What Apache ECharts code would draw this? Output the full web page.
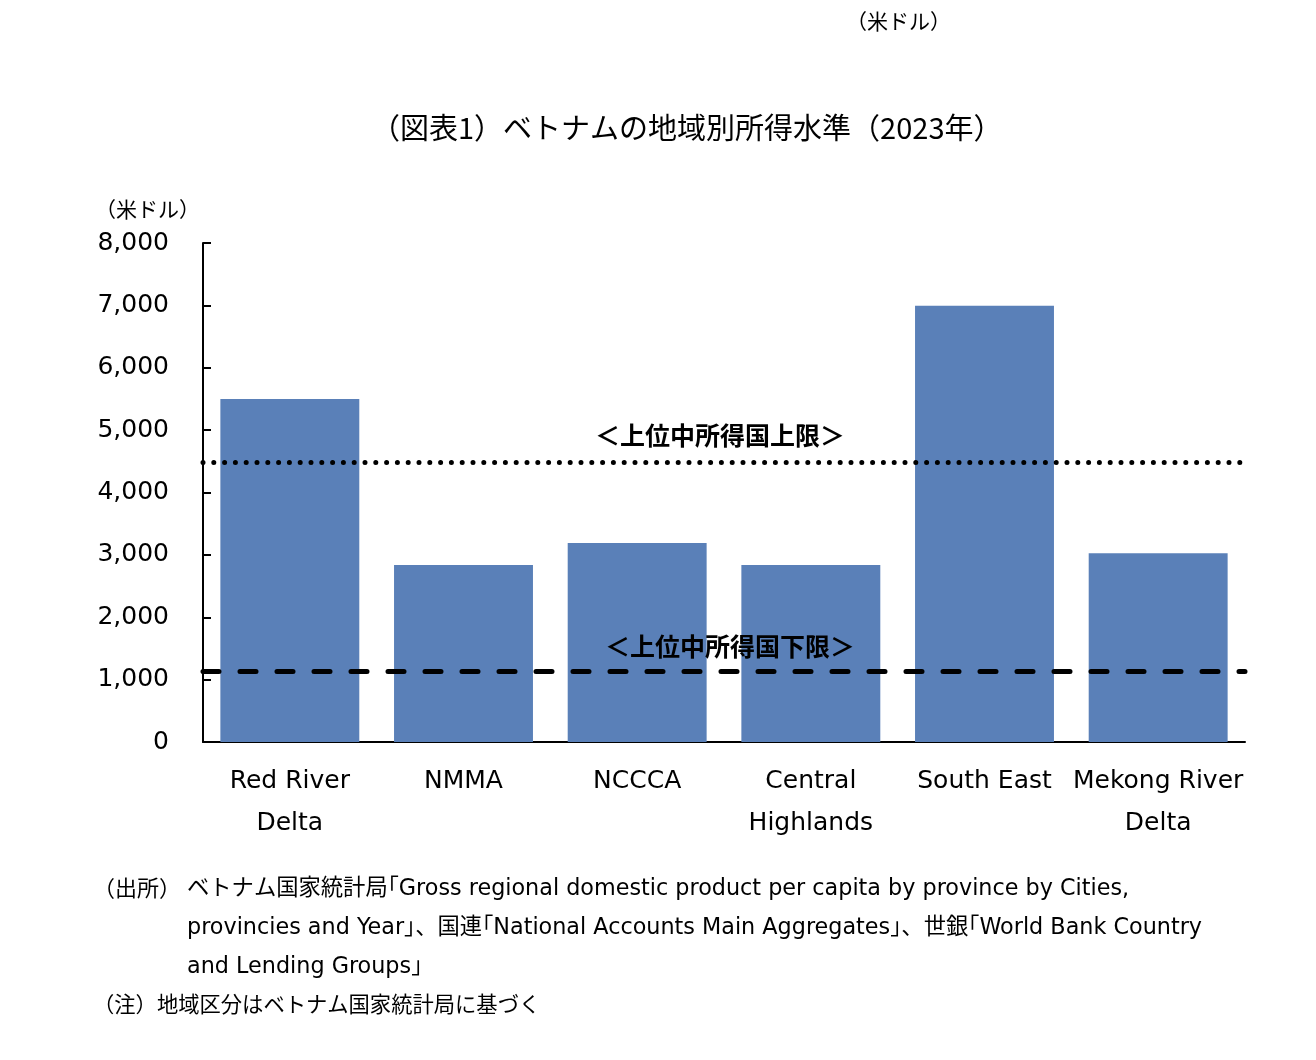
<!DOCTYPE html>
<html><head><meta charset="utf-8">
<script src="https://cdn.jsdelivr.net/npm/echarts@6/dist/echarts.min.js"></script>
<style>html,body{margin:0;padding:0;background:#fff}#c{width:1316px;height:1060px}</style>
</head><body><div id="c"></div>
<script>
const categories = ["Red River\nDelta", "NMMA", "NCCCA", "Central\nHighlands", "South East", "Mekong River\nDelta"];
const incomeValues = [5500, 2838, 3190, 2838, 6995, 3025];
const upperLimit = 4490;
const lowerLimit = 1140;
const upperLabel = "＜上位中所得国上限＞";
const lowerLabel = "＜上位中所得国下限＞";
const yTicks = { min: 0, max: 8000, interval: 1000 };

const JP = '"Noto Sans CJK JP", sans-serif';
const LAT = '"DejaVu Sans", "Noto Sans CJK JP", sans-serif';

const chart = echarts.init(document.getElementById('c'));
chart.setOption({
  backgroundColor: '#fff',
  animation: false,
  title: [
    { text: '（図表1）ベトナムの地域別所得水準（2023年）', left: 366, top: 108,
      textStyle: { fontFamily: JP, fontSize: 29, fontWeight: 'normal', color: '#000' } },
    { text: '（米ドル）', left: 841, top: 6,
      textStyle: { fontFamily: JP, fontSize: 21, fontWeight: 'normal', color: '#000' } },
    { text: '（米ドル）', left: 90, top: 194,
      textStyle: { fontFamily: JP, fontSize: 21, fontWeight: 'normal', color: '#000' } },
    { text: '（出所）', left: 88, top: 872,
      textStyle: { fontFamily: JP, fontSize: 22, fontWeight: 'normal', color: '#000' } },
    { text: 'ベトナム国家統計局｢Gross regional domestic product per capita by province by Cities,\nprovincies and Year｣、国連｢National Accounts Main Aggregates｣、世銀｢World Bank Country\nand Lending Groups｣',
      left: 182, top: 865,
      textStyle: { fontFamily: LAT, fontSize: 22.3, fontWeight: 'normal', color: '#000', lineHeight: 39 } },
    { text: '（注）地域区分はベトナム国家統計局に基づく', left: 88, top: 988,
      textStyle: { fontFamily: JP, fontSize: 21.3, fontWeight: 'normal', color: '#000' } }
  ],
  grid: { left: 203, right: 71, top: 243, bottom: 318 },
  xAxis: {
    type: 'category', data: categories,
    axisLine: { lineStyle: { color: '#000', width: 2 } },
    axisTick: { inside: true, length: 8, lineStyle: { color: '#000', width: 2 } },
    axisLabel: { fontFamily: LAT, fontSize: 25, color: '#000', lineHeight: 42, margin: 18, interval: 0 }
  },
  yAxis: {
    type: 'value', min: yTicks.min, max: yTicks.max, interval: yTicks.interval,
    axisLine: { show: true, lineStyle: { color: '#000', width: 2 } },
    axisTick: { show: true, inside: true, length: 8, lineStyle: { color: '#000', width: 2 } },
    splitLine: { show: false },
    axisLabel: { fontFamily: LAT, fontSize: 25, color: '#000', margin: 34, padding: [6, 0, 0, 0],
      formatter: v => v.toLocaleString('en-US') }
  },
  series: [{
    type: 'bar', data: incomeValues, barCategoryGap: '20%',
    itemStyle: { color: '#5a80b8' },
    markLine: {
      silent: true, symbol: 'none',
      data: [
        { yAxis: upperLimit,
          lineStyle: { color: '#000', width: 5, type: [0, 10.8], cap: 'round' },
          label: { show: true, formatter: upperLabel, position: 'insideMiddleTop', distance: 14,
            fontFamily: JP, fontSize: 25, fontWeight: 'bold', color: '#000', padding: [0, 8, 0, 0] } },
        { yAxis: lowerLimit,
          lineStyle: { color: '#000', width: 5, type: [16, 21], cap: 'round' },
          label: { show: true, formatter: lowerLabel, position: 'insideMiddleTop', distance: 12,
            fontFamily: JP, fontSize: 25, fontWeight: 'bold', color: '#000', padding: [0, 0, 0, 12] } }
      ]
    }
  }]
});
</script></body></html>
